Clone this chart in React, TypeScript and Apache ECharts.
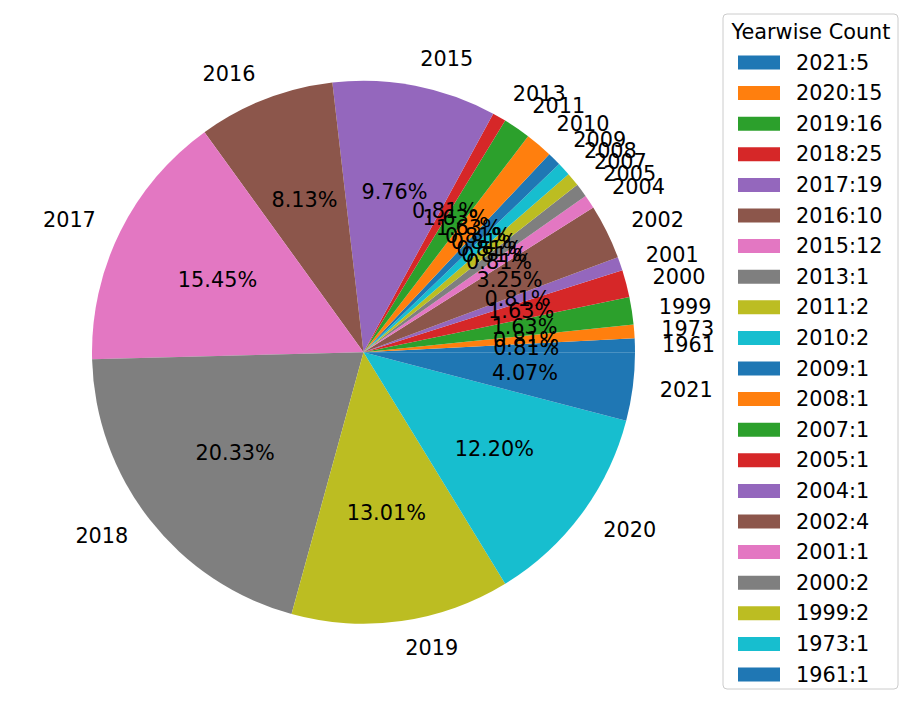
import React, { useEffect, useRef } from "react";
import * as echarts from "echarts";

const years = ["1961", "1973", "1999", "2000", "2001", "2002", "2004", "2005", "2007", "2008", "2009", "2010", "2011", "2013", "2015", "2016", "2017", "2018", "2019", "2020", "2021"];
const counts = [1, 1, 2, 2, 1, 4, 1, 1, 1, 1, 1, 2, 2, 1, 12, 10, 19, 25, 16, 15, 5];
const legendTitle = "Yearwise Count";
const palette = ["#1f77b4", "#ff7f0e", "#2ca02c", "#d62728", "#9467bd", "#8c564b", "#e377c2", "#7f7f7f", "#bcbd22", "#17becf"];

const legendLabels = years
  .map((y, i) => `${y}:${counts[i]}`)
  .reverse();

const FONT = "DejaVu Sans";
const FS = 20.8;

export default function App() {
  const ref = useRef<HTMLDivElement>(null);
  useEffect(() => {
    if (!ref.current) return;
    const chart = echarts.init(ref.current, undefined, { renderer: "svg" });
    const total = counts.reduce((a, b) => a + b, 0);
    const cx = 363.5;
    const cy = 352.2;
    const R = 271.5;
    const data = years.map((y, i) => ({ name: y, value: counts[i] }));
    chart.setOption({
      animation: false,
      color: palette,
      legend: {
        orient: "vertical",
        left: 738,
        top: 52,
        padding: 0,
        itemWidth: 42,
        itemHeight: 14,
        itemGap: 9.6,
        icon: "rect",
        selectedMode: false,
        data: years,
        formatter: (name: string) => legendLabels[years.indexOf(name)],
        textStyle: {
          fontFamily: FONT,
          fontSize: FS,
          color: "#000",
          padding: [0, 0, 0, 11],
        },
      },
      graphic: [
        {
          type: "rect",
          z: -1,
          shape: { x: 723, y: 14, width: 175, height: 675, r: 4 },
          style: { fill: "rgba(255,255,255,0.8)", stroke: "#cccccc", lineWidth: 1 },
        },
        {
          type: "text",
          x: 811,
          y: 32,
          style: {
            text: legendTitle,
            fontFamily: FONT,
            fontSize: FS,
            fill: "#000",
            align: "center",
            verticalAlign: "middle",
          },
        },
      ],
      series: [
        {
          type: "pie",
          center: [cx, cy],
          radius: [0, R],
          startAngle: 0,
          clockwise: false,
          avoidLabelOverlap: false,
          minShowLabelAngle: 0,
          labelLayout: { hideOverlap: false },
          emphasis: { disabled: true },
          itemStyle: { borderWidth: 0 },
          label: {
            show: true,
            position: "outside",
            formatter: "{b}",
            fontFamily: FONT,
            fontSize: FS,
            color: "#000",
            distanceToLabelLine: 0,
          },
          labelLine: { show: false, length: R * 0.1, length2: 0 },
          data,
        },
        {
          type: "pie",
          center: [cx, cy],
          radius: [0, 2 * (0.6 * R - 3)],
          startAngle: 0,
          clockwise: false,
          avoidLabelOverlap: false,
          minShowLabelAngle: 0,
          labelLayout: { hideOverlap: false },
          silent: true,
          emphasis: { disabled: true },
          itemStyle: { color: "transparent", borderWidth: 0 },
          label: {
            show: true,
            position: "inside",
            formatter: (p: any) => ((p.value / total) * 100).toFixed(2) + "%",
            fontFamily: FONT,
            fontSize: FS,
            color: "#000",
          },
          labelLine: { show: false },
          data,
        },
      ],
    });
    return () => chart.dispose();
  }, []);
  return (
    <div
      ref={ref}
      style={{ position: "fixed", left: 0, top: 0, width: 913, height: 705, background: "#fff" }}
    />
  );
}
